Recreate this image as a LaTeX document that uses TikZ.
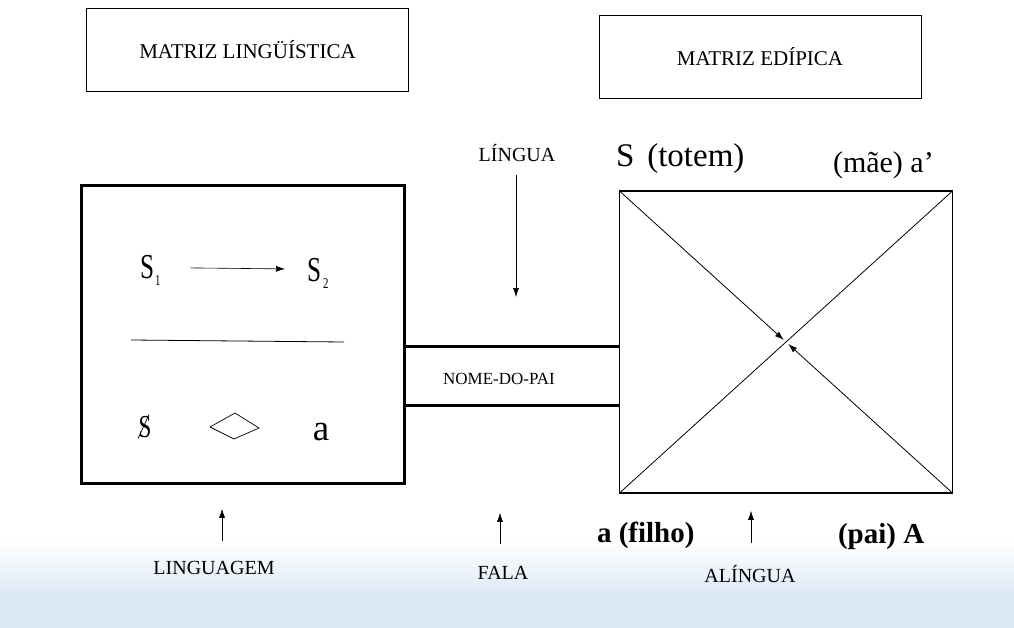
\documentclass[tikz,border=0pt]{standalone}
\usepackage{fontspec}
\setmainfont{Liberation Serif}
\newfontfamily\condserif[FakeStretch=0.72]{Liberation Serif}
\usetikzlibrary{arrows.meta,calc}
\definecolor{scanblue}{HTML}{DAE7F5}
\begin{document}
\begin{tikzpicture}[x=1pt,y=-1pt,
  every node/.style={inner sep=0pt, outer sep=0pt},
  topbox/.style={draw, line width=0.9pt, minimum width=322pt, minimum height=83pt,
     font=\fontsize{21}{24}\selectfont},
  caplabel/.style={font=\fontsize{20}{24}\selectfont, anchor=base},
  bigsym/.style={font=\condserif\fontsize{35}{40}\selectfont, anchor=base west},
  arr/.style={-{Latex[length=9pt,width=6pt]}, line width=0.6pt},
  diagarr/.style={-{Latex[length=9pt,width=6pt]}, line width=0.8pt},
  thickline/.style={line width=3pt},
  boldlabel/.style={font=\bfseries\fontsize{29}{34}\selectfont, anchor=base west}]
\useasboundingbox (0,0) rectangle (1014,628);
% scanned page tint at the bottom
\shade[top color=white, bottom color=scanblue] (0,540) rectangle (1014,600);
\fill[scanblue] (0,600) rectangle (1014,628);

% header boxes
\node[topbox] (ml) at (247.5,50) {MATRIZ LINGÜÍSTICA};
\node[topbox] (me) at (760,57) {MATRIZ EDÍPICA};

% left matrix box
\node[draw, line width=3pt, minimum width=323pt, minimum height=298pt] (lbox) at (243,334.5) {};
\node[bigsym] (s1) at (140,278) {S\kern1pt\raisebox{-7pt}{\fontsize{15}{15}\selectfont 1}};
\node[bigsym] (s2) at (307,281) {S\kern2pt\raisebox{-7pt}{\fontsize{15}{15}\selectfont 2}};
\draw[arr] ($(s1.east)+(30,-2)$) -- ($(s2.west)+(-22,-4)$);
\coordinate (barL) at (131,340);
\coordinate (barR) at (344,342);
\draw[line width=0.8pt] (barL) -- (barR);
\node[font=\condserif\fontsize{32}{36}\selectfont, anchor=base] (bs) at (145,437) {S};
\draw[line width=0.7pt] ($(bs.center)+(-7,12)$) -- ($(bs.center)+(4,-12)$);
\draw[line width=0.7pt] (210,427) -- (235,413) -- (259,428) -- (234,439) -- cycle;
\node[font=\fontsize{37}{40}\selectfont, anchor=base] (pa) at (321,440) {a};

% right matrix box
\node[draw, line width=1.1pt, minimum width=333pt, minimum height=302pt] (ebox) at (786,342) {};
\draw[line width=0.8pt] (ebox.north east) -- (ebox.south west);
\draw[diagarr, shorten >=3pt] (ebox.north west) -- (ebox.center);
\draw[diagarr, shorten >=3pt] (ebox.south east) -- (ebox.center);
\node[font=\fontsize{33}{36}\selectfont, anchor=base west] (tot) at (616,167) {S\hspace{13pt}(totem)};
\node[font=\fontsize{30}{36}\selectfont, anchor=base west] (mae) at (833,173) {(mãe) a’};

% channel NOME-DO-PAI
\draw[thickline] (lbox.east |- 0,346) -- (ebox.west |- 0,346);
\draw[thickline] (lbox.east |- 0,405.5) -- (ebox.west |- 0,405.5);
\node[font=\fontsize{17}{20}\selectfont] (ndp) at (499,379) {NOME-DO-PAI};

% LÍNGUA
\node[caplabel] (lingua) at (517,162) {LÍNGUA};
\coordinate (linguaend) at (516,297);
\draw[arr] ($(lingua.south)+(-1,13)$) -- (linguaend);

% bottom labels
\node[caplabel] (lingu) at (214,574) {LINGUAGEM};
\node[caplabel] (fala) at (503,579) {FALA};
\node[caplabel] (alingua) at (750,582) {ALÍNGUA};
\draw[arr] ($(lingu.north)+(8,-20)$) -- ++(0,-32);
\draw[arr] ($(fala.north)+(-3,-22)$) -- ++(0,-31);
\draw[arr] ($(alingua.north)+(1,-22)$) -- ++(0,-32);
\node[boldlabel] (filho) at (597,542) {a (filho)};
\node[boldlabel] (pai) at (838,543) {(pai) A};
\end{tikzpicture}
\end{document}
